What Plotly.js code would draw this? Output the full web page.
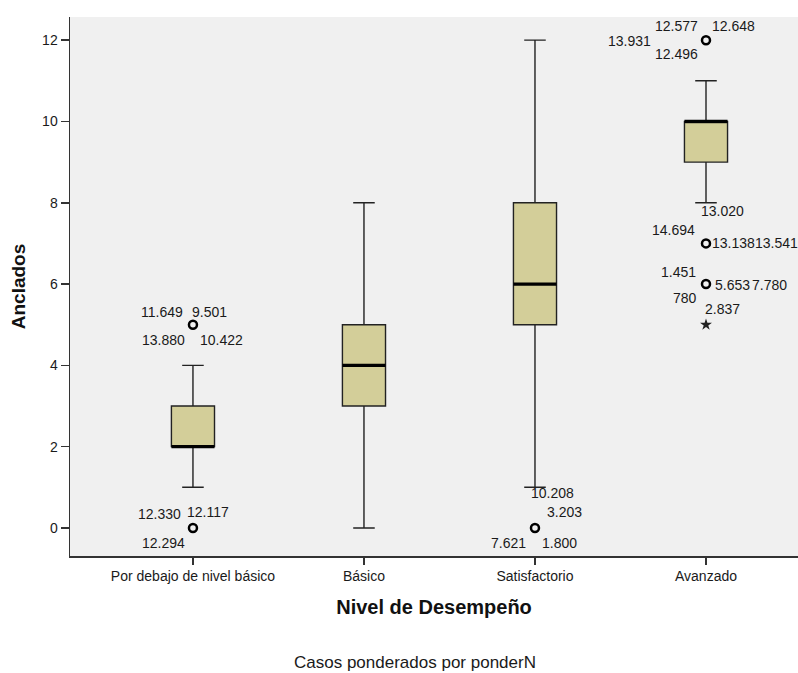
<!DOCTYPE html>
<html>
<head>
<meta charset="utf-8">
<script src="https://cdn.plot.ly/plotly-3.0.1.min.js"></script>
<style>html,body{margin:0;padding:0;background:#fff;} #chart{width:798px;height:673px;}</style>
</head>
<body>
<div id="chart"></div>
<script>
// ---- data ----
const categories = ["Por debajo de nivel básico", "Básico", "Satisfactorio", "Avanzado"];
const lowerWhisker = [1, 0, 1, 8];
const q1Values     = [2, 3, 5, 9];
const medianValues = [2, 4, 6, 10];
const q3Values     = [3, 5, 8, 10];
const upperWhisker = [4, 8, 12, 11];

// outliers (circles): category index and value
const outlierCat   = [0, 0, 2, 3, 3, 3];
const outlierValue = [5, 0, 0, 12, 7, 6];
// extreme values (stars)
const extremeCat   = [3];
const extremeValue = [5];

// case labels attached to each outlier / extreme point
const outlierLabels = [
  ["11.649", "9.501", "13.880", "10.422"],
  ["12.330", "12.117", "12.294"],
  ["10.208", "3.203", "7.621", "1.800"],
  ["12.577", "12.648", "13.931", "12.496"],
  ["13.020", "14.694", "13.138", "13.541"],
  ["1.451", "5.653", "7.780", "780"]
];
const extremeLabels = [["2.837"]];

// ---- label placement (pixels, relative to the point) ----
const outlierLabelPos = [
  [["right", -8, 13], ["left", -3, 13], ["right", -6, -15], ["left", 5, -15]],
  [["right", -10, 14], ["left", -8, 16], ["right", -6, -15]],
  [["left", -6, 35], ["left", 10, 16], ["right", -7, -15], ["left", 5, -15]],
  [["right", -6, 14], ["left", 4, 14], ["right", -53, -1], ["right", -6, -14]],
  [["left", -7, 32], ["right", -9, 13], ["left", 4, 0], ["left", 47, 0]],
  [["right", -8, 12], ["left", 7, -1], ["left", 44, -1], ["right", -7, -14]]
];
const extremeLabelPos = [[["left", -3, 16]]];

const FONT = "Liberation Sans, Arial, sans-serif";
const boxFill = "rgb(211,206,153)";
const boxLine = "#222222";
const halfBox = 0.126;

const xs = categories.map((c, i) => i);

const traces = [{
  type: "box",
  x: xs,
  q1: q1Values,
  median: medianValues,
  q3: q3Values,
  lowerfence: lowerWhisker,
  upperfence: upperWhisker,
  width: 2 * halfBox,
  whiskerwidth: 0.5,
  fillcolor: boxFill,
  line: {color: boxLine, width: 1.4},
  boxpoints: false,
  hoverinfo: "skip",
  showlegend: false
}, {
  type: "scatter",
  mode: "markers",
  x: outlierCat,
  y: outlierValue,
  marker: {symbol: "circle-open", size: 8, color: "#000", line: {width: 2.5, color: "#000"}},
  hoverinfo: "skip",
  showlegend: false,
  cliponaxis: false
}, {
  type: "scatter",
  mode: "markers",
  x: extremeCat,
  y: extremeValue,
  marker: {symbol: "star", size: 9, color: "#222", line: {width: 0}},
  hoverinfo: "skip",
  showlegend: false
}];

// thick median lines
const shapes = medianValues.map((m, i) => ({
  type: "line", xref: "x", yref: "y",
  x0: xs[i] - halfBox, x1: xs[i] + halfBox, y0: m, y1: m,
  line: {color: "#000", width: 3.2}
}));

const annotations = [];
function addLabels(cats, vals, labels, pos) {
  labels.forEach((arr, k) => {
    arr.forEach((t, j) => {
      const p = pos[k][j];
      annotations.push({
        x: cats[k], y: vals[k], xref: "x", yref: "y",
        text: t, showarrow: false,
        xanchor: p[0], yanchor: "middle",
        xshift: p[1], yshift: p[2],
        font: {family: FONT, size: 14, color: "#1a1a1a"}
      });
    });
  });
}
addLabels(outlierCat, outlierValue, outlierLabels, outlierLabelPos);
addLabels(extremeCat, extremeValue, extremeLabels, extremeLabelPos);

annotations.push({
  xref: "paper", yref: "paper", x: 0.474, y: -0.198,
  xanchor: "center", yanchor: "middle",
  text: "Casos ponderados por ponderN", showarrow: false,
  font: {family: FONT, size: 17, color: "#1a1a1a"}
});

const layout = {
  width: 798, height: 673,
  margin: {l: 70, r: 0, t: 17, b: 117},
  paper_bgcolor: "#ffffff",
  plot_bgcolor: "#f0f0f0",
  showlegend: false,
  font: {family: FONT, color: "#1a1a1a"},
  xaxis: {
    range: [-0.719, 3.538],
    tickvals: xs, ticktext: categories,
    ticks: "outside", ticklen: 7, tickwidth: 1.5, tickcolor: "#333",
    showline: true, linecolor: "#333", linewidth: 1.5,
    showgrid: false, zeroline: false,
    tickfont: {family: FONT, size: 14, color: "#1a1a1a"},
    title: {text: "Nivel de Desempeño", font: {family: FONT, size: 20, color: "#111", weight: "bold"}, standoff: 16}
  },
  yaxis: {
    range: [-0.69, 12.57],
    tickvals: [0, 2, 4, 6, 8, 10, 12],
    ticks: "outside", ticklen: 8, tickwidth: 1.5, tickcolor: "#333",
    showline: true, linecolor: "#333", linewidth: 1.5,
    showgrid: false, zeroline: false,
    tickfont: {family: FONT, size: 14, color: "#1a1a1a"},
    title: {text: "Anclados", font: {family: FONT, size: 19, color: "#111", weight: "bold"}, standoff: 11}
  },
  shapes: shapes,
  annotations: annotations
};

Plotly.newPlot("chart", traces, layout, {staticPlot: true, displayModeBar: false});
</script>
</body>
</html>
